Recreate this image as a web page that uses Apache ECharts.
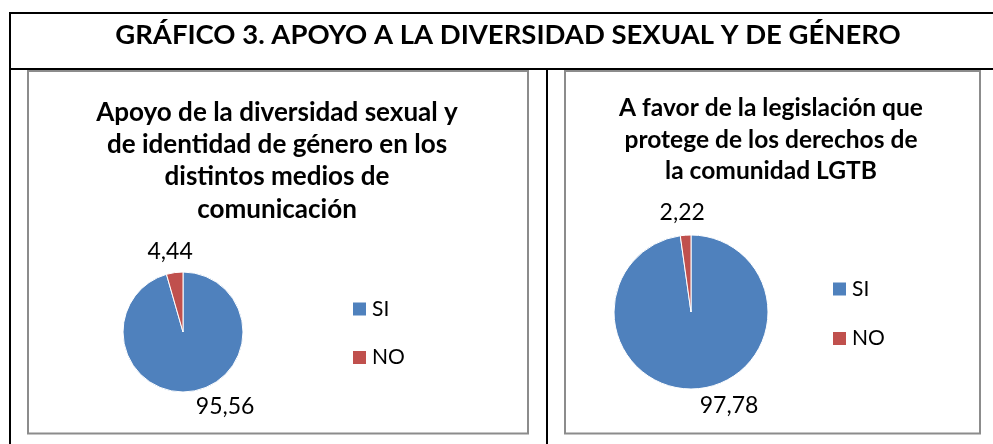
<!DOCTYPE html>
<html><head><meta charset="utf-8">
<script src="https://cdn.jsdelivr.net/npm/echarts@6/dist/echarts.min.js"></script>
<style>html,body{margin:0;padding:0;background:#fff}#c{width:993px;height:444px}</style>
</head><body><div id="c"></div>
<script>
const mainTitle = 'GRÁFICO 3. APOYO A LA DIVERSIDAD SEXUAL Y DE GÉNERO';
const titleLeft = ['Apoyo de la diversidad sexual y', 'de identidad de género en los', 'distintos medios de', 'comunicación'];
const titleRight = ['A favor de la legislación que', 'protege de los derechos de', 'la comunidad LGTB'];
const categories = ['SI', 'NO'];
const valuesLeft = [95.56, 4.44];
const valuesRight = [97.78, 2.22];
const colors = ['#4F81BD', '#C0504D'];

const FAM = 'Lato';
const ctx = document.createElement('canvas').getContext('2d');
function fit(text, weight, target) {
  ctx.font = weight + ' 100px ' + FAM;
  return 100 * target / ctx.measureText(text).width;
}
const fMain = fit(mainTitle, 'bold', 786);
const fSubL = fit(titleLeft[0], 'bold', 362);
const fSubR = fit(titleRight[0], 'bold', 304);
const fLab = 23;
const fLeg = 21;
const fmt = v => v.toFixed(2).replace('.', ',');

function pieSeries(center, radius, values, len) {
  return {
    type: 'pie', center: center, radius: radius, startAngle: 90, clockwise: true,
    silent: true, emphasis: { disabled: true },
    avoidLabelOverlap: false,
    data: categories.map((n, i) => ({ name: n, value: values[i] })),
    itemStyle: { borderColor: '#fff', borderWidth: 1 },
    label: { show: true, position: 'outside', formatter: p => fmt(p.value), fontFamily: FAM, fontSize: fLab, color: '#000', distanceToLabelLine: 0 },
    labelLine: { show: false, length: len, length2: 2 },
    labelLayout: p => ({ align: p.dataIndex === 1 ? 'center' : 'left', dy: -3 })
  };
}
function legend(left, top, gap) {
  return {
    data: categories, orient: 'vertical', left: left, top: top, padding: 0,
    itemWidth: 15, itemHeight: 15, itemGap: gap, icon: 'rect', selectedMode: false,
    textStyle: { fontFamily: FAM, fontSize: fLeg, lineHeight: 20, color: '#000' }
  };
}
const black = '#000', gray = '#8c8c8c';
const chart = echarts.init(document.getElementById('c'));
chart.setOption({
  animation: false,
  color: colors,
  title: [
    { text: mainTitle, left: 508, top: 35 - fMain / 2, textAlign: 'center', padding: 0,
      textStyle: { fontFamily: FAM, fontWeight: 'bold', fontSize: fMain, lineHeight: fMain, color: '#000' } },
    { text: titleLeft.join('\n'), left: 277, top: 96.3, textAlign: 'center', padding: 0,
      textStyle: { fontFamily: FAM, fontWeight: 'bold', fontSize: fSubL, lineHeight: 32.3, color: '#000' } },
    { text: titleRight.join('\n'), left: 771, top: 92.1, textAlign: 'center', padding: 0,
      textStyle: { fontFamily: FAM, fontWeight: 'bold', fontSize: fSubR, lineHeight: 31.7, color: '#000' } }
  ],
  legend: [legend(351, 298.5, 27.5), legend(831, 278.5, 28.5)],
  graphic: [
    { type: 'rect', shape: { x: 9, y: 12, width: 984, height: 2 }, style: { fill: black }, silent: true },
    { type: 'rect', shape: { x: 9, y: 12, width: 2, height: 432 }, style: { fill: black }, silent: true },
    { type: 'rect', shape: { x: 9, y: 68, width: 984, height: 2 }, style: { fill: black }, silent: true },
    { type: 'rect', shape: { x: 546, y: 68, width: 2, height: 376 }, style: { fill: black }, silent: true },
    { type: 'rect', shape: { x: 28, y: 71, width: 500, height: 362.5 }, style: { fill: 'none', stroke: gray, lineWidth: 2 }, silent: true },
    { type: 'rect', shape: { x: 565, y: 71, width: 415, height: 362.5 }, style: { fill: 'none', stroke: gray, lineWidth: 2 }, silent: true }
  ],
  series: [
    pieSeries([183, 332], 60, valuesLeft, 18),
    pieSeries([691, 312], 77, valuesRight, 20)
  ]
});
</script>
</body></html>
